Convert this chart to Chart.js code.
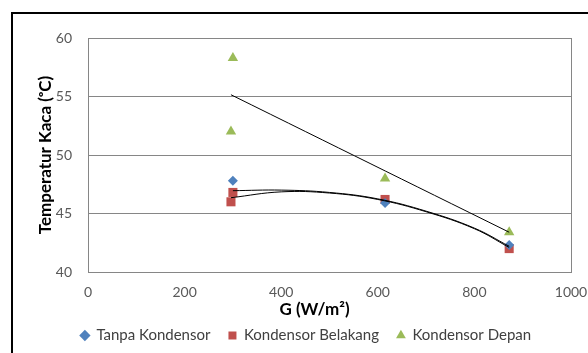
<!DOCTYPE html>
<html>
<head>
<meta charset="utf-8">
<script src="https://cdn.jsdelivr.net/npm/chart.js@4"></script>
<style>
  html, body { margin: 0; padding: 0; background: #fff; }
  #wrap { width: 588px; height: 353px; position: relative; }
</style>
</head>
<body>
<div id="wrap"><canvas id="chart" width="588" height="353"></canvas></div>
<script>
// measured points
const tanpaG = [300, 615, 872];
const tanpaT = [47.8, 45.9, 42.3];
const belakangG = [300, 296, 615, 872];
const belakangT = [46.8, 46.0, 46.2, 42.0];
const depanG = [300, 296, 615, 872];
const depanT = [58.3, 52.0, 48.0, 43.4];

// trend lines
const trendAG = [300, 400, 500, 600, 700, 800, 872];
const trendAT = [46.95, 47.0, 46.8, 46.25, 45.2, 43.75, 42.2];
const trendBG = [296, 400, 500, 600, 700, 800, 872];
const trendBT = [46.35, 46.85, 46.75, 46.2, 45.15, 43.7, 42.1];
const trendCG = [296, 872];
const trendCT = [55.15, 43.4];

const yTicks = [40, 45, 50, 55, 60];

const pts = (xs, ys) => xs.map((x, i) => ({ x: x, y: ys[i] }));
const FONT = "Lato, 'Open Sans', sans-serif";

const trend = (xs, ys) => ({
  label: "trend",
  data: pts(xs, ys),
  showLine: true,
  borderColor: "#000",
  borderWidth: 1,
  pointRadius: 0,
  tension: 0.4,
  fill: false
});

const frame = {
  id: "frame",
  beforeDraw(chart) {
    const ctx = chart.ctx;
    ctx.save();
    ctx.fillStyle = "#fff";
    ctx.fillRect(0, 0, chart.width, chart.height);
    ctx.strokeStyle = "#000";
    ctx.lineWidth = 2;
    ctx.beginPath();
    ctx.moveTo(12, 400);
    ctx.lineTo(12, 13);
    ctx.lineTo(600, 13);
    ctx.stroke();
    ctx.restore();
  },
  afterLayout(chart) {
    // legend sits a bit right of the canvas centre in the original
    chart.legend.left += 3;
    chart.legend.right += 3;
    chart.legend.top += 2;
    chart.legend.bottom += 2;
    // x title is a little left of the plot centre
    const sx = chart.scales.x;
    if (!sx._titleShifted) {
      const orig = sx.drawTitle.bind(sx);
      sx.drawTitle = function () {
        chart.ctx.save();
        chart.ctx.translate(-15, 0);
        orig();
        chart.ctx.restore();
      };
      sx._titleShifted = true;
    }
  },
  beforeDatasetsDraw(chart) {
    const a = chart.chartArea;
    const ctx = chart.ctx;
    ctx.save();
    ctx.strokeStyle = "#868686";
    ctx.lineWidth = 1;
    ctx.strokeRect(Math.round(a.left) + 0.5, Math.round(a.top) + 0.5,
      Math.round(a.right - a.left), Math.round(a.bottom - a.top));
    ctx.restore();
  }
};

new Chart(document.getElementById("chart"), {
  type: "scatter",
  data: {
    datasets: [
      trend(trendCG, trendCT),
      trend(trendAG, trendAT),
      trend(trendBG, trendBT),
      {
        label: "Tanpa Kondensor",
        data: pts(tanpaG, tanpaT),
        pointStyle: "rectRot",
        pointRadius: 5,
        backgroundColor: "#4F81BD",
        borderColor: "#4F81BD",
        borderWidth: 0
      },
      {
        label: "Kondensor Belakang",
        data: pts(belakangG, belakangT),
        pointStyle: "rect",
        pointRadius: 6.4,
        backgroundColor: "#C0504D",
        borderColor: "#C0504D",
        borderWidth: 0
      },
      {
        label: "Kondensor Depan",
        data: pts(depanG, depanT),
        pointStyle: "triangle",
        pointRadius: 6,
        backgroundColor: "#9BBB59",
        borderColor: "#9BBB59",
        borderWidth: 0
      }
    ]
  },
  options: {
    responsive: false,
    animation: false,
    layout: { padding: { left: 35, top: 38, right: 17, bottom: 2 } },
    plugins: {
      tooltip: { enabled: false },
      legend: {
        position: "bottom",
        labels: {
          filter: item => item.text !== "trend",
          usePointStyle: true,
          boxWidth: 8,
          boxHeight: 8,
          padding: 18,
          color: "#404040",
          font: { family: FONT, size: 15 }
        }
      }
    },
    scales: {
      x: {
        type: "linear",
        min: 0,
        max: 1000,
        afterFit: s => { s.height = 36; s.paddingLeft = 0; s.paddingRight = 0; },
        ticks: {
          stepSize: 200,
          color: "#595959",
          padding: 12,
          font: { family: FONT, size: 14 },
          callback: v => String(v)
        },
        grid: { display: false, drawTicks: false },
        border: { color: "#868686" },
        title: {
          display: true,
          text: "G (W/m²)",
          color: "#000",
          padding: { top: 0, bottom: -12 },
          font: { family: FONT, size: 17, weight: "bold" }
        }
      },
      y: {
        min: 40,
        max: 60,
        afterBuildTicks: s => { s.ticks = yTicks.map(v => ({ value: v })); },
        afterFit: s => { s.width = 53; },
        ticks: { color: "#595959", padding: 16, font: { family: FONT, size: 14 } },
        grid: { color: "#868686", drawTicks: false },
        border: { color: "#868686" },
        title: {
          display: true,
          text: "Temperatur Kaca (ᵒC)",
          color: "#000",
          padding: { top: 0, bottom: 0 },
          font: { family: FONT, size: 17, weight: "bold" }
        }
      }
    }
  },
  plugins: [frame]
});
</script>
</body>
</html>
